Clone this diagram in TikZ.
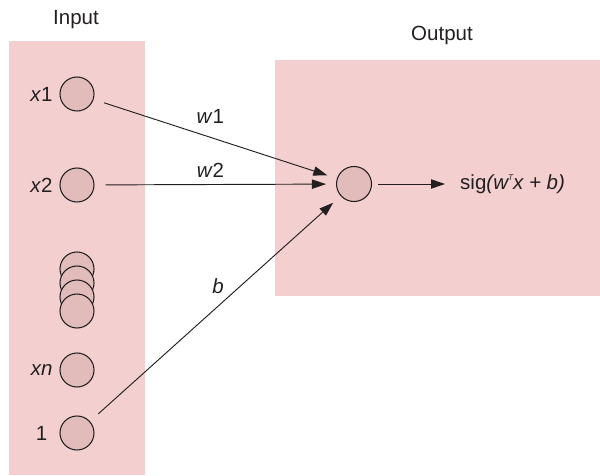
\documentclass[tikz,border=0pt]{standalone}
\usepackage{fontspec}
\setmainfont{Liberation Sans}
\usetikzlibrary{arrows.meta, positioning}

\definecolor{layerpink}{HTML}{F3D0CF}
\definecolor{neuronpink}{HTML}{E2BCBB}
\definecolor{inkgray}{HTML}{231F20}

\begin{document}
\begin{tikzpicture}[
    x=0.03cm, y=0.03cm,
    >={Triangle[length=0.42cm, width=0.28cm]},
    font=\fontsize{17.5}{20}\selectfont,
    layer/.style={fill=layerpink, draw=none},
    neuron/.style={circle, draw=inkgray, fill=neuronpink, line width=0.9pt, minimum size=1.02cm, inner sep=0pt},
    inlabel/.style={inner sep=0pt, text=inkgray},
    weight/.style={inner sep=3pt, text=inkgray, font=\fontsize{17.5}{20}\selectfont\itshape},
    arrow/.style={->, line width=0.8pt, inkgray, shorten <=0.33cm, shorten >=0.3cm}
  ]
    \useasboundingbox (0,0) rectangle (600,475);
    % layers
    \fill[layer] (9,0) rectangle (145,434);
    \fill[layer] (275,179) rectangle (600,415);
    \node[inlabel] (intitle) at (76,455) {Input};
    \node[inlabel] (outtitle) at (442,440) {Output};
    % input neurons
    \node[neuron] (x1) at (77,381) {};
    \node[neuron] (x2) at (77,290) {};
    \foreach \y/\i in {206/a, 192/b, 178/c, 164/d}
      \node[neuron] (dots\i) at (77,\y) {};
    \node[neuron] (xn) at (77,105) {};
    \node[neuron] (one) at (77,42) {};
    \node[inlabel, left=0.2cm of x1] (lx1) {\textit{x}1};
    \node[inlabel, left=0.2cm of x2] (lx2) {\textit{x}2};
    \node[inlabel, left=0.2cm of xn] (lxn) {\textit{xn}};
    \node[inlabel, left=0.36cm of one] (lone) {1};
    % output neuron
    \node[neuron, minimum size=1.05cm] (out) at (354,291) {};
    \node[inlabel, anchor=west] (res) at (460,291)
      {sig\textit{(w\raisebox{0.8ex}{\fontsize{7}{7}\selectfont T}x + b)}};
    \draw[arrow] (x1) -- (out) node[weight, pos=0.48, above=0.3cm] {w\textup{1}};
    \draw[arrow] (x2) -- (out) node[weight, pos=0.48, above=0.09cm] {w\textup{2}};
    \draw[arrow] (one) -- (out) node[weight, pos=0.55, above left] {b};
    \draw[arrow, shorten <=0.18cm, shorten >=0.45cm] (out) -- (res);
\end{tikzpicture}
\end{document}
